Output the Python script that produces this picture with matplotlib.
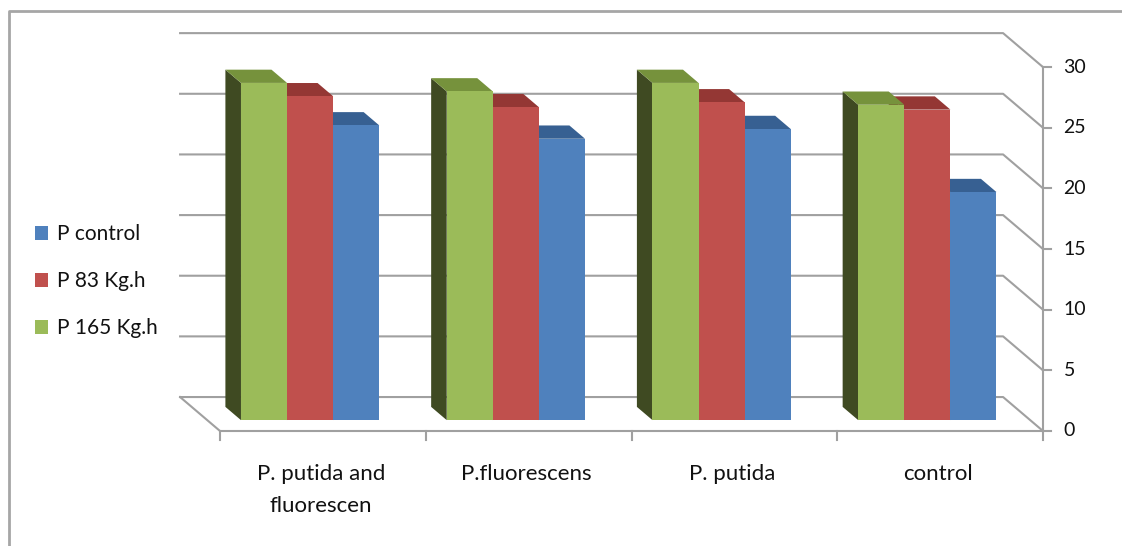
import numpy as np
import matplotlib.pyplot as plt
from matplotlib.patches import Polygon, Patch
from matplotlib.lines import Line2D

plt.rcParams['font.family'] = ['Lato', 'DejaVu Sans']

categories = ['P. putida and\nfluorescen', 'P.fluorescens', 'P. putida', 'control']
series_names = ['P control', 'P 83 Kg.h', 'P 165 Kg.h']
p_control = [24.3, 23.2, 24.0, 18.8]
p_83 = [26.7, 25.8, 26.2, 25.6]
p_165 = [27.8, 27.1, 27.8, 26.0]
y_ticks = [0, 5, 10, 15, 20, 25, 30]

# colours: front face, top face, side face
c_blue = ('#4F81BD', '#376092', '#2C4D75')
c_red = ('#C0504D', '#943734', '#772C2A')
c_green = ('#9BBB59', '#76923C', '#3F4A22')
grid_c = '#A0A0A0'
txt_c = '#111111'

# oblique "3d" depth: full floor depth shift in data units (back = up-left)
DX = -0.194
DY = 2.80
bar_front = 0.32   # fraction of depth from the front edge of the floor
bar_back = 0.71
bar_w = 0.224
n = len(categories)

fig = plt.figure(figsize=(11.22, 5.46), dpi=100)
ax = fig.add_axes([0, 0, 1, 1])
ax.set_xlim(-220 / 205.75, (1122 - 220) / 205.75)
ax.set_ylim(-115 / 12.13, 431 / 12.13)
ax.axis('off')

# back wall gridlines and right wall
for v in y_ticks:
    ax.plot([DX, n + DX, n], [v + DY, v + DY, v], color=grid_c, lw=1.5, zorder=1)
# floor
ax.plot([DX, 0, n], [DY, 0, 0], color=grid_c, lw=1.5, zorder=1)

# value axis at the front right
ax.plot([n, n], [0, y_ticks[-1]], color=grid_c, lw=1.5, zorder=1)
for v in y_ticks:
    ax.plot([n, n + 0.039], [v, v], color=grid_c, lw=1.5)
    ax.text(n + 0.1, v, str(v), ha='left', va='center', fontsize=14,
            color=txt_c)

# category ticks and labels
for i in range(n + 1):
    ax.plot([i, i], [0, -0.74], color=grid_c, lw=1.5)
for i, name in enumerate(categories):
    ax.text(i + 0.49, -2.72, name, ha='center', va='top', fontsize=16,
            linespacing=1.75, color=txt_c)


def draw_bar(x0, value, colors, z):
    front, top, side = colors
    fx, fy = bar_front * DX, bar_front * DY
    bx, by = bar_back * DX, bar_back * DY
    x1 = x0 + bar_w
    # left side face
    ax.add_patch(Polygon([(x0 + bx, by), (x0 + fx, fy), (x0 + fx, value + fy),
                          (x0 + bx, value + by)], closed=True, fc=side,
                         ec='none', zorder=z))
    # top face
    ax.add_patch(Polygon([(x0 + fx, value + fy), (x1 + fx, value + fy),
                          (x1 + bx, value + by), (x0 + bx, value + by)],
                         closed=True, fc=top, ec='none', zorder=z))
    # front face
    ax.add_patch(Polygon([(x0 + fx, fy), (x1 + fx, fy), (x1 + fx, value + fy),
                          (x0 + fx, value + fy)], closed=True, fc=front,
                         ec='none', zorder=z))


for i in range(n):
    left = i + 0.5 - 1.5 * bar_w
    # right-most first so the nearer-left bars cover the hidden faces
    draw_bar(left + 2 * bar_w, p_control[i], c_blue, 3)
    draw_bar(left + bar_w, p_83[i], c_red, 4)
    draw_bar(left, p_165[i], c_green, 5)

handles = [Patch(fc=c_blue[0]), Patch(fc=c_red[0]), Patch(fc=c_green[0])]
leg = fig.legend(handles, series_names, loc='center left',
                 bbox_to_anchor=(0.031, 0.485), frameon=False, fontsize=15,
                 handlelength=0.65, handleheight=0.65, handletextpad=0.4,
                 labelspacing=1.3, borderpad=0, borderaxespad=0)
for t in leg.get_texts():
    t.set_color(txt_c)

# outer chart frame (left and top edges)
fig.add_artist(Line2D([9 / 1122, 9 / 1122, 1], [0, 1 - 11 / 546, 1 - 11 / 546],
                      transform=fig.transFigure, color='#A6A6A6', lw=2))

fig.savefig('out.png', dpi=100)
